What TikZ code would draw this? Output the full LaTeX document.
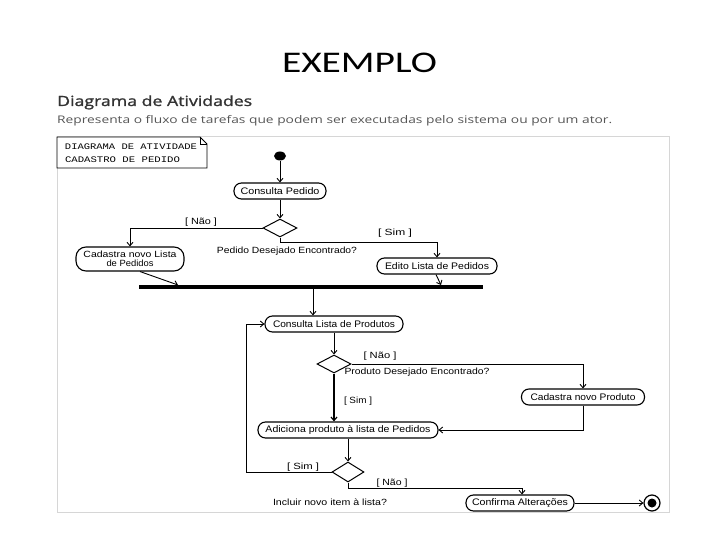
\documentclass[tikz,border=0pt]{standalone}
\usepackage{graphicx}
\usepackage{fontspec}
\setmainfont{Liberation Sans}
\newfontfamily\titlefont{Carlito}
\newfontfamily\hdrfont{Open Sans}
\newfontfamily\hdrsemi{Open Sans}[FakeBold=1.3]
\newfontfamily\notefont{Liberation Mono}
\usetikzlibrary{arrows.meta,shapes.geometric,calc}
\newcommand{\fitw}[2]{\resizebox{#1}{\height}{#2}}
\definecolor{hdrgray}{HTML}{333333}
\definecolor{txtgray}{HTML}{555555}
\definecolor{framegray}{HTML}{D6D6D6}
\tikzset{
  act/.style={draw, line width=1.1pt, rounded corners=7.5pt, minimum height=16pt, inner sep=0pt, font=\fontsize{9.5}{10}\selectfont},
  dec/.style={draw, line width=1pt, shape=diamond, minimum width=34pt, minimum height=18pt, inner sep=0pt, shape aspect=1.9},
  lbl/.style={inner sep=0pt, font=\fontsize{9}{9}\selectfont},
  arr/.style={line width=0.9pt, -{Straight Barb[length=3.5pt,width=6pt]}},
  ln/.style={line width=0.9pt},
}
\begin{document}
\begin{tikzpicture}[x=1pt,y=-1pt]
\useasboundingbox (0,0) rectangle (720,540);
% title and header
\node[anchor=base, inner sep=0pt, font=\titlefont\fontsize{30}{32}\selectfont] (title) at (359.5,73) {\fitw{155pt}{EXEMPLO}};
\node[anchor=base west, inner sep=0pt, text=hdrgray, font=\hdrsemi\fontsize{14}{16}\selectfont] (hdr) at (57,106) {\fitw{195pt}{Diagrama de Atividades}};
\node[anchor=base west, inner sep=0pt, text=txtgray, font=\hdrfont\fontsize{10.5}{12}\selectfont] (sub) at (57,124) {\fitw{555pt}{Representa o fluxo de tarefas que podem ser executadas pelo sistema ou por um ator.}};
% frame
\draw[framegray, line width=0.8pt] (57,136) rectangle (669,512);
% note
\draw[line width=0.9pt, fill=white] (57,137) -- (200,137) -- (207,144) -- (207,168) -- (57,168) -- cycle;
\draw[line width=0.6pt] (200,137) -- (200,144) -- (207,144);
\node[inner sep=0pt, font=\notefont\fontsize{8.5}{9}\selectfont] (n1) at (131,147) {\fitw{132pt}{DIAGRAMA DE ATIVIDADE}};
\node[inner sep=0pt, font=\notefont\fontsize{8.5}{9}\selectfont] (n2) at (122.5,160) {\fitw{115pt}{CADASTRO DE PEDIDO}};
% nodes
\node[ellipse, fill=black, minimum width=12pt, minimum height=9pt, inner sep=0pt] (start) at (280,156) {};
\node[act, minimum width=92pt] (cp) at (280,191) {\fitw{79pt}{Consulta Pedido}};
\node[dec] (d1) at (280,228) {};
\node[act, minimum width=108pt, minimum height=24pt, rounded corners=10pt, align=center, font=\fontsize{9}{9.5}\selectfont] (cadL) at (130,259) {\fitw{93pt}{Cadastra novo Lista}\\\fitw{47pt}{de Pedidos}};
\node[act, minimum width=120pt] (edito) at (437,266) {\fitw{104pt}{Edito Lista de Pedidos}};
\node[fill=black, minimum width=344pt, minimum height=4pt, inner sep=0pt] (bar) at (311,287) {};
\node[act, minimum width=138pt] (clp) at (334,324) {\fitw{122pt}{Consulta Lista de Produtos}};
\node[dec] (d2) at (334,364) {};
\node[act, minimum width=123pt] (cnp) at (583,397) {\fitw{105pt}{Cadastra novo Produto}};
\node[act, minimum width=180pt] (adp) at (348,430) {\fitw{165pt}{Adiciona produto à lista de Pedidos}};
\node[dec, minimum width=32pt, minimum height=20pt, shape aspect=1.6] (d3) at (348,472) {};
\node[act, minimum width=108pt] (conf) at (520,503) {\fitw{96pt}{Confirma Alterações}};
\node[circle, draw, line width=1.2pt, minimum size=16pt, inner sep=0pt] (endn) at (652,503) {};
\node[circle, fill=black, minimum size=9pt, inner sep=0pt] (endin) at (endn) {};
% labels
\node[lbl] (l1) at (201,222) {\fitw{32pt}{[ Não ]}};
\node[lbl] (l2) at (395,233) {\fitw{34pt}{[ Sim ]}};
\node[lbl] (l3) at (287,251) {\fitw{140pt}{Pedido Desejado Encontrado?}};
\node[lbl] (l4) at (380,356) {\fitw{33pt}{[ Não ]}};
\node[lbl] (l5) at (417,372) {\fitw{145pt}{Produto Desejado Encontrado?}};
\node[lbl] (l6) at (358,401) {\fitw{28pt}{[ Sim ]}};
\node[lbl] (l7) at (303,467) {\fitw{32pt}{[ Sim ]}};
\node[lbl] (l8) at (392,483) {\fitw{31pt}{[ Não ]}};
\node[lbl] (l9) at (330,502) {\fitw{114pt}{Incluir novo item à lista?}};
% connectors
\draw[arr] (start) -- (cp);
\draw[arr] (cp) -- (d1);
\draw[arr] (d1.west) -| (cadL.north);
\draw[arr] (d1.south) -- ++(0,5) -| (edito.north);
\coordinate (b1) at (178,285);
\coordinate (b2) at (441,285);
\coordinate (bs) at (313,289);
\draw[arr] ($(cadL.south)+(10,0)$) -- (b1);
\draw[arr] ($(edito.south)+(-1,0)$) -- (b2);
\draw[arr] (bs) -- (bs |- clp.north);
\draw[arr] (clp) -- (d2);
\draw[arr] (d2.east) -| (cnp.north);
\draw[arr, line width=1.2pt] (d2.south) -- (d2.south |- adp.north);
\draw[arr] (cnp.south) |- (adp.east);
\draw[arr] (adp) -- (d3);
\draw[arr] (d3.west) -- ++(-85,0) |- (clp.west);
\draw[arr] (d3.south) -- ++(0,6) -| ($(conf.north)+(2,0)$);
\draw[arr] (conf.east) -- (endn.west);
\end{tikzpicture}
\end{document}
